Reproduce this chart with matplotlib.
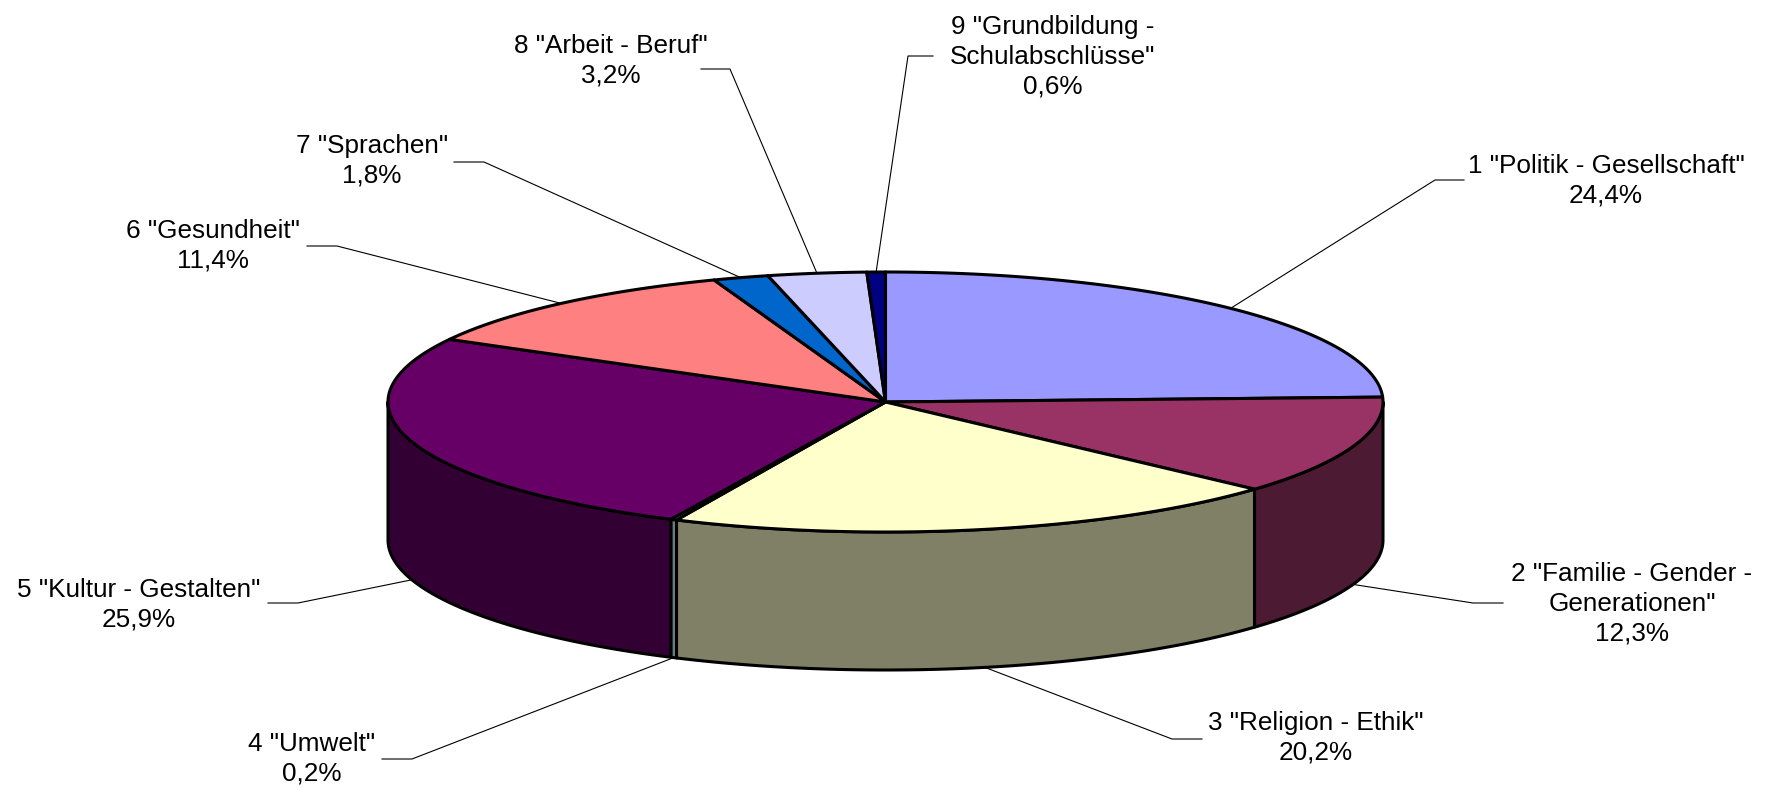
import numpy as np
import matplotlib
matplotlib.use("Agg")
import matplotlib.pyplot as plt
from matplotlib.patches import Polygon

# Data
labels = ['1 "Politik - Gesellschaft"', '2 "Familie - Gender -\nGenerationen"',
          '3 "Religion - Ethik"', '4 "Umwelt"', '5 "Kultur - Gestalten"',
          '6 "Gesundheit"', '7 "Sprachen"', '8 "Arbeit - Beruf"',
          '9 "Grundbildung -\nSchulabschlüsse"']
values = [24.4, 12.3, 20.2, 0.2, 25.9, 11.4, 1.8, 3.2, 0.6]
colors = ['#9999FF', '#993366', '#FFFFCC', '#CCFFFF', '#660066',
          '#FF8080', '#0066CC', '#CCCCFF', '#000080']

# label layout: text centre, elbow of leader, end of horizontal leader part
text_pos = [(1606, 181), (1632, 604), (1316, 738), (312, 759), (139, 605),
            (213, 246), (372, 161), (611, 61), (1053, 57)]
elbows = [(1435, 180), (1473, 603), (1172, 739), (412, 759), (298, 603),
          (337, 246), (484, 162), (730, 69), (908, 56)]
ends_x = [1464, 1503, 1202, 382, 268, 307, 454, 701, 933]

# pie geometry (pixel space)
cx, cy = 885.5, 402.0
rx, ry = 497.5, 130.0
depth = 138.0

plt.rcParams['font.family'] = ['Liberation Sans', 'DejaVu Sans']

fig = plt.figure(figsize=(17.69, 7.90), dpi=100)
ax = fig.add_axes([0, 0, 1, 1])
ax.set_xlim(0, 1769)
ax.set_ylim(790, 0)
ax.axis('off')


def darker(c, f=0.5):
    r, g, b = matplotlib.colors.to_rgb(c)
    return (r * f, g * f, b * f)


def ell(t, dy=0.0):
    return cx + rx * np.cos(t), cy - ry * np.sin(t) + dy


fracs = np.array(values) / sum(values)
starts = 90 - 360 * np.concatenate([[0], np.cumsum(fracs)[:-1]])
stops = starts - 360 * fracs

# side walls (front half only)
for a0, a1, col in zip(starts, stops, colors):
    lo, hi = max(a1, -180.0), min(a0, 0.0)
    if hi <= lo:
        continue
    t = np.radians(np.linspace(hi, lo, 80))
    xt, yt = ell(t)
    xb, yb = ell(t[::-1], depth)
    pts = np.column_stack([np.r_[xt, xb], np.r_[yt, yb]])
    ax.add_patch(Polygon(pts, closed=True, fc=darker(col), ec='black', lw=2.2, joinstyle='round'))

# top faces
for a0, a1, col in zip(starts, stops, colors):
    t = np.radians(np.linspace(a0, a1, max(4, int(abs(a0 - a1) * 2))))
    x, y = ell(t)
    pts = np.column_stack([np.r_[cx, x], np.r_[cy, y]])
    ax.add_patch(Polygon(pts, closed=True, fc=col, ec='black', lw=2.2, joinstyle='round'))

# labels and leader lines
for i, (lab, v) in enumerate(zip(labels, values)):
    mid = np.radians((starts[i] + stops[i]) / 2)
    if np.sin(mid) > 0:
        sx, sy = ell(mid)
    else:
        sx, sy = ell(mid, depth)
    ex, ey = elbows[i]
    ax.plot([sx, ex, ends_x[i]], [sy, ey, ey], color='black', lw=0.8)
    pct = f"{v:.1f}".replace('.', ',') + '%'
    tx, ty = text_pos[i]
    ax.text(tx, ty, lab + '\n' + pct, ha='center', va='center',
            multialignment='center', fontsize=18.8, linespacing=1.3)

fig.savefig('out.png', dpi=100)
